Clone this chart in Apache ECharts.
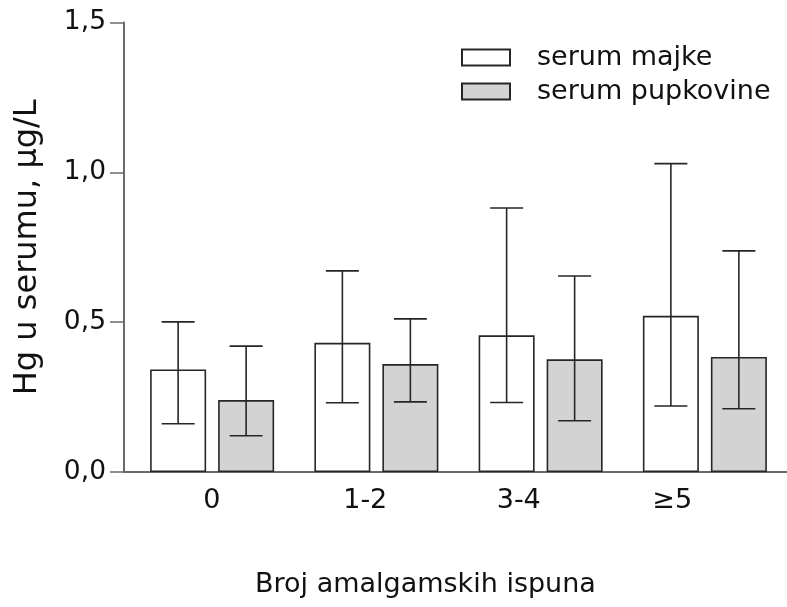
<!DOCTYPE html>
<html>
<head>
<meta charset="utf-8">
<script src="https://cdn.jsdelivr.net/npm/echarts@6/dist/echarts.min.js"></script>
<style>
html,body{margin:0;padding:0;background:#fff;}
#chart{width:787px;height:607px;}
</style>
</head>
<body>
<div id="chart"></div>
<script>
// ---- data ----
const categories = ['0', '1-2', '3-4', '\u22655'];
const yTickLabels = ['0,0', '0,5', '1,0', '1,5'];
const seriesNames = ['serum majke', 'serum pupkovine'];
const majke = [0.342, 0.431, 0.456, 0.521];
const majkeLow = [0.161, 0.231, 0.232, 0.220];
const majkeHigh = [0.501, 0.671, 0.881, 1.029];
const pupkovine = [0.240, 0.360, 0.376, 0.384];
const pupkovineLow = [0.121, 0.234, 0.171, 0.211];
const pupkovineHigh = [0.420, 0.511, 0.654, 0.738];
const yTitle = 'Hg u serumu, \u03bcg/L';
const xTitle = 'Broj amalgamskih ispuna';

// ---- style ----
const FONT = 'DejaVu Sans';
const BAR_W = 56;
const BAR_GAP_PX = 12;
const CAP_W = 33;
const AXIS_COLOR = '#6a6a6a';
const EDGE = '#262626';
const TOP = 22.5, BOTTOM = 135;

function errRender(side) {
  return function (params, api) {
    const i = api.value(0);
    const lo = api.coord([i, api.value(1)]);
    const hi = api.coord([i, api.value(2)]);
    const x = lo[0] + side * (BAR_W + BAR_GAP_PX) / 2;
    const st = { stroke: EDGE, lineWidth: 1.6 };
    return {
      type: 'group',
      children: [
        { type: 'line', shape: { x1: x, y1: lo[1], x2: x, y2: hi[1] }, style: st },
        { type: 'line', shape: { x1: x - CAP_W / 2, y1: lo[1], x2: x + CAP_W / 2, y2: lo[1] }, style: st },
        { type: 'line', shape: { x1: x - CAP_W / 2, y1: hi[1], x2: x + CAP_W / 2, y2: hi[1] }, style: st }
      ]
    };
  };
}

const chart = echarts.init(document.getElementById('chart'), null, { renderer: 'canvas' });

chart.setOption({
  backgroundColor: '#ffffff',
  animation: false,
  textStyle: { fontFamily: FONT, color: '#111' },
  title: {
    text: xTitle,
    left: 255, top: 571, padding: 0,
    textStyle: { fontFamily: FONT, fontSize: 27, fontWeight: 'normal', color: '#111' }
  },
  legend: {
    data: seriesNames,
    orient: 'vertical',
    left: 461, top: 44, padding: 0,
    itemWidth: 48, itemHeight: 16, itemGap: 7,
    icon: 'rect',
    textStyle: { fontFamily: FONT, fontSize: 27, color: '#111', padding: [0, 0, 0, 22] }
  },
  grid: [
    { left: 124, width: 666, top: TOP, bottom: BOTTOM },  // visible axes
    { left: 130, width: 660, top: TOP, bottom: BOTTOM },  // bars
    { left: 135, width: 614, top: TOP, bottom: BOTTOM }   // category labels
  ],
  xAxis: [
    { gridIndex: 0, type: 'category', data: categories,
      axisLine: { show: true, lineStyle: { color: AXIS_COLOR, width: 2 } },
      axisTick: { show: false }, axisLabel: { show: false }, splitLine: { show: false } },
    { gridIndex: 1, type: 'category', data: categories, show: false },
    { gridIndex: 2, type: 'category', data: categories,
      axisLine: { show: false }, axisTick: { show: false },
      axisLabel: { fontFamily: FONT, fontSize: 27, color: '#111', margin: 15 } }
  ],
  yAxis: [
    { gridIndex: 0, type: 'value', min: 0, max: 1.5, interval: 0.5,
      name: yTitle, nameLocation: 'middle', nameGap: 80, nameRotate: 90,
      nameTextStyle: { fontFamily: FONT, fontSize: 32, color: '#111' },
      axisLine: { show: true, lineStyle: { color: AXIS_COLOR, width: 2 } },
      axisTick: { show: true, length: 14, lineStyle: { color: AXIS_COLOR, width: 1.5 } },
      axisLabel: { fontFamily: FONT, fontSize: 26.5, color: '#111', margin: 18,
        formatter: function (v) { return yTickLabels[Math.round(v / 0.5)]; } },
      splitLine: { show: false } },
    { gridIndex: 1, type: 'value', min: 0, max: 1.5, interval: 0.5, show: false },
    { gridIndex: 2, type: 'value', min: 0, max: 1.5, interval: 0.5, show: false }
  ],
  series: [
    { name: seriesNames[0], type: 'bar', xAxisIndex: 1, yAxisIndex: 1,
      data: majke, barWidth: BAR_W, barGap: (BAR_GAP_PX / BAR_W * 100) + '%',
      itemStyle: { color: '#ffffff', borderColor: EDGE, borderWidth: 1.6 } },
    { name: seriesNames[1], type: 'bar', xAxisIndex: 1, yAxisIndex: 1,
      data: pupkovine, barWidth: BAR_W,
      itemStyle: { color: '#d3d3d3', borderColor: EDGE, borderWidth: 1.6 } },
    { name: 'err1', type: 'custom', xAxisIndex: 1, yAxisIndex: 1, z: 5,
      renderItem: errRender(-1),
      data: majkeLow.map((v, i) => [i, v, majkeHigh[i]]) },
    { name: 'err2', type: 'custom', xAxisIndex: 1, yAxisIndex: 1, z: 5,
      renderItem: errRender(1),
      data: pupkovineLow.map((v, i) => [i, v, pupkovineHigh[i]]) }
  ]
});
</script>
</body>
</html>
